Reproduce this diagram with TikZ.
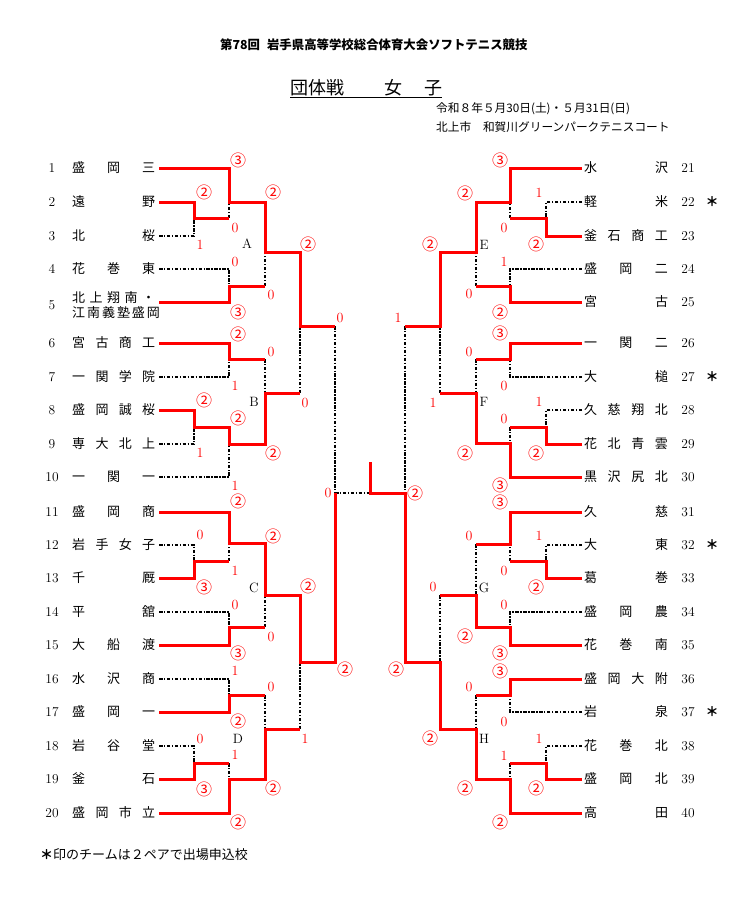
\documentclass[tikz,border=0pt]{standalone}
\usepackage{fontspec}
\newfontfamily\jp{Noto Sans CJK JP}
\newcounter{nn}
\tikzset{
  win/.style={draw=red, line width=3pt},
  lose/.style={draw=black, line width=1.8pt, dash pattern=on 3.5pt off 1.5pt on 1.4pt off 1.5pt},
  num/.style={inner sep=0pt, font=\fontsize{13.5}{13.5}\selectfont},
  nm/.style={inner sep=0pt, font=\jp\fontsize{13}{13}\selectfont},
  sd/.style={inner sep=0pt, text=red, font=\fontsize{14}{14}\selectfont},
  sc/.style={inner sep=0pt, text=red, font=\jp\fontsize{16}{16}\selectfont},
  lab/.style={inner sep=0pt, font=\fontsize{13.5}{13.5}\selectfont},
}
\newcommand\TL[3]{%
  \node[num] (n#1) at (52,#2) {#1};
  \node[nm] (t#1) at (113.7,#2) {\makebox[83pt][s]{#3}};
  \coordinate (L#1) at (159,#2);}
\newcommand\TR[3]{%
  \node[num] (n#1) at (688,#2) {#1};
  \node[nm] (t#1) at (626,#2) {\makebox[84pt][s]{#3}};
  \coordinate (L#1) at (582,#2);}
\newcommand\SD[3]{\stepcounter{nn}\node[sd] (s\arabic{nn}) at (#1,#2) {#3};}
\newcommand\SC[3]{\stepcounter{nn}\node[sc] (s\arabic{nn}) at (#1,#2) {#3};}
\begin{document}
\begin{tikzpicture}[x=1pt,y=-1pt]
\fill[white] (0,0) rectangle (739,906);
\useasboundingbox (0,0) rectangle (739,906);

% header
\node[anchor=west, inner sep=0pt, font=\jp\bfseries\fontsize{12.4}{12.4}\selectfont] (title) at (220,45) {第78回\hspace{7pt}岩手県高等学校総合体育大会ソフトテニス競技};
\node[anchor=west, inner sep=0pt, font=\jp\fontsize{18}{18}\selectfont] (h1) at (290,88) {団体戦};
\node[inner sep=0pt, font=\jp\fontsize{18}{18}\selectfont] (h2) at (393,88) {女};
\node[inner sep=0pt, font=\jp\fontsize{18}{18}\selectfont] (h3) at (433,88) {子};
\coordinate (ul1) at (290,97.5);
\coordinate (ul2) at (442,97.5);
\draw[line width=1pt] (ul1) -- (ul2);
\node[anchor=west, inner sep=0pt, font=\jp\fontsize{11.7}{11.7}\selectfont] (d1) at (436,109) {令和８年５月30日(土)・５月31日(日)};
\node[anchor=west, inner sep=0pt, font=\jp\fontsize{11.7}{11.7}\selectfont] (d2) at (436,127) {北上市　和賀川グリーンパークテニスコート};
\node[anchor=west, inner sep=0pt, font=\jp\fontsize{13}{13}\selectfont] (foot) at (40,855) {{\bfseries ＊}印のチームは２ペアで出場申込校};

% teams left
\TL{1}{168}{盛 岡 三}
\TL{2}{202}{遠 野}
\TL{3}{236}{北 桜}
\TL{4}{269}{花 巻 東}
\node[num] (n5) at (52,305) {5};
\node[nm] (t5a) at (113.7,298) {\makebox[83pt][s]{北 上 翔 南 ・}};
\node[nm] (t5b) at (113.7,313) {\makebox[83pt][s]{江 南 義 塾 盛 岡}};
\coordinate (L5) at (159,302);
\TL{6}{343}{宮 古 商 工}
\TL{7}{377}{一 関 学 院}
\TL{8}{410}{盛 岡 誠 桜}
\TL{9}{444}{専 大 北 上}
\TL{10}{477}{一 関 一}
\TL{11}{512}{盛 岡 商}
\TL{12}{545}{岩 手 女 子}
\TL{13}{578}{千 厩}
\TL{14}{612}{平 舘}
\TL{15}{645}{大 船 渡}
\TL{16}{679}{水 沢 商}
\TL{17}{712}{盛 岡 一}
\TL{18}{746}{岩 谷 堂}
\TL{19}{779}{釜 石}
\TL{20}{813}{盛 岡 市 立}
% teams right
\TR{21}{168}{水 沢}
\TR{22}{202}{軽 米}
\TR{23}{236}{釜 石 商 工}
\TR{24}{269}{盛 岡 二}
\TR{25}{302}{宮 古}
\TR{26}{343}{一 関 二}
\TR{27}{377}{大 槌}
\TR{28}{410}{久 慈 翔 北}
\TR{29}{444}{花 北 青 雲}
\TR{30}{477}{黒 沢 尻 北}
\TR{31}{512}{久 慈}
\TR{32}{545}{大 東}
\TR{33}{578}{葛 巻}
\TR{34}{612}{盛 岡 農}
\TR{35}{645}{花 巻 南}
\TR{36}{679}{盛 岡 大 附}
\TR{37}{712}{岩 泉}
\TR{38}{746}{花 巻 北}
\TR{39}{779}{盛 岡 北}
\TR{40}{813}{高 田}
\node[nm, font=\jp\bfseries\fontsize{13}{13}\selectfont] (a22) at (712,202) {＊};
\node[nm, font=\jp\bfseries\fontsize{13}{13}\selectfont] (a27) at (712,377) {＊};
\node[nm, font=\jp\bfseries\fontsize{13}{13}\selectfont] (a32) at (712,545) {＊};
\node[nm, font=\jp\bfseries\fontsize{13}{13}\selectfont] (a37) at (712,712) {＊};

% junctions
\coordinate (p23) at (194,218);
\coordinate (jA1) at (229,202);
\coordinate (jA2) at (229,286);
\coordinate (jA) at (265,252);
\coordinate (jB1) at (229,359);
\coordinate (p89) at (194,427);
\coordinate (jB2) at (229,444);
\coordinate (jB) at (265,393);
\coordinate (qAB) at (300,326);
\coordinate (jC1) at (229,543);
\coordinate (p1213) at (194,561);
\coordinate (jC2) at (229,627);
\coordinate (jC) at (265,595);
\coordinate (jD1) at (229,695);
\coordinate (p1819) at (194,763);
\coordinate (jD2) at (229,779);
\coordinate (jD) at (265,729);
\coordinate (qCD) at (300,662);
\coordinate (sL) at (335,493);
\coordinate (fin) at (370,493);
\coordinate (champ) at (370,462);
\coordinate (sR) at (405,493);
\coordinate (qEF) at (440,326);
\coordinate (qGH) at (440,662);
\coordinate (jE) at (476,252);
\coordinate (jFF) at (476,393);
\coordinate (jG) at (476,595);
\coordinate (jH) at (476,729);
\coordinate (jE1) at (510,202);
\coordinate (jE2) at (510,286);
\coordinate (jF1) at (510,359);
\coordinate (jF2) at (510,443);
\coordinate (jG1) at (510,544);
\coordinate (jG2) at (510,627);
\coordinate (jH1) at (510,695);
\coordinate (jH2) at (510,779);
\coordinate (p2223) at (546,218);
\coordinate (p2829) at (546,427);
\coordinate (p3233) at (546,561);
\coordinate (p3839) at (546,763);

% losing legs
\draw[lose] (L3) -| (p23);
\draw[lose] (p23 -| jA1) -- (jA1);
\draw[lose] (L4) -| (jA2);
\draw[lose] (jA2 -| jA) -- (jA);
\draw[lose] (qAB -| sL) -- (sL);
\draw[lose] (L7) -| (jB1);
\draw[lose] (jB1 -| jB) -- (jB);
\draw[lose] (L9) -| (p89);
\draw[lose] (L10) -| (jB2);
\draw[lose] (jB -| qAB) -- (qAB);
\draw[lose] (L12) -| (p1213);
\draw[lose] (p1213 -| jC1) -- (jC1);
\draw[lose] (L14) -| (jC2);
\draw[lose] (jC2 -| jC) -- (jC);
\draw[lose] (L16) -| (jD1);
\draw[lose] (jD1 -| jD) -- (jD);
\draw[lose] (L18) -| (p1819);
\draw[lose] (p1819 -| jD2) -- (jD2);
\draw[lose] (jD -| qCD) -- (qCD);
\draw[lose] (sL) -- (fin);
\draw[lose] (L22) -| (p2223);
\draw[lose] (p2223 -| jE1) -- (jE1);
\draw[lose] (L24) -| (jE2);
\draw[lose] (jE2 -| jE) -- (jE);
\draw[lose] (qEF -| sR) -- (sR);
\draw[lose] (L27) -| (jF1);
\draw[lose] (jF1 -| jFF) -- (jFF);
\draw[lose] (L28) -| (p2829);
\draw[lose] (p2829 -| jF2) -- (jF2);
\draw[lose] (jFF -| qEF) -- (qEF);
\draw[lose] (L32) -| (p3233);
\draw[lose] (p3233 -| jG1) -- (jG1);
\draw[lose] (L34) -| (jG2);
\draw[lose] (jG1 -| jG) -- (jG);
\draw[lose] (jG -| qGH) -- (qGH);
\draw[lose] (L37) -| (jH1);
\draw[lose] (jH1 -| jH) -- (jH);
\draw[lose] (L38) -| (p3839);
\draw[lose] (p3839 -| jH2) -- (jH2);

% winning paths
\draw[win] (L1) -| (jA1) -| (jA) -| (qAB) -- (qAB -| sL);
\draw[win] (L2) -| (p23) -- (p23 -| jA1);
\draw[win] (L5) -| (jA2) -- (jA2 -| jA);
\draw[win] (L6) -| (jB1) -- (jB1 -| jB);
\draw[win] (L8) -| (p89) -| (jB2) -| (jB) -- (jB -| qAB);
\draw[win] (L11) -| (jC1) -| (jC) -| (qCD) -| (sL);
\draw[win] (L13) -| (p1213) -- (p1213 -| jC1);
\draw[win] (L15) -| (jC2) -- (jC2 -| jC);
\draw[win] (L17) -| (jD1) -- (jD1 -| jD);
\draw[win] (L19) -| (p1819) -- (p1819 -| jD2);
\draw[win] (L20) -| (jD2) -| (jD) -- (jD -| qCD);
\draw[win] (L21) -| (jE1) -| (jE) -| (qEF) -- (qEF -| sR);
\draw[win] (L23) -| (p2223) -- (p2223 -| jE1);
\draw[win] (L25) -| (jE2) -- (jE2 -| jE);
\draw[win] (L26) -| (jF1) -- (jF1 -| jFF);
\draw[win] (L29) -| (p2829) -- (p2829 -| jF2);
\draw[win] (L30) -| (jF2) -| (jFF) -- (jFF -| qEF);
\draw[win] (L31) -| (jG1) -- (jG1 -| jG);
\draw[win] (L33) -| (p3233) -- (p3233 -| jG1);
\draw[win] (L35) -| (jG2) -| (jG) -- (jG -| qGH);
\draw[win] (L36) -| (jH1) -- (jH1 -| jH);
\draw[win] (L39) -| (p3839) -- (p3839 -| jH2);
\draw[win] (L40) -| (jH2) -| (jH) -| (qGH) -| (sR) -- (fin) -- (champ);

% block labels
\node[lab] (labA) at (247,244) {A};
\node[lab] (labB) at (254,402) {B};
\node[lab] (labC) at (254,588) {C};
\node[lab] (labD) at (238,739) {D};
\node[lab] (labE) at (484,245) {E};
\node[lab] (labF) at (484,402) {F};
\node[lab] (labG) at (484,588) {G};
\node[lab] (labH) at (484,739) {H};

% circled scores
\SC{238}{160}{③}\SC{204}{192}{②}\SC{273}{192}{②}\SC{308}{244}{②}
\SC{238}{312}{③}\SC{238}{334}{②}\SC{204}{400}{②}\SC{238}{418}{②}
\SC{273}{453}{②}\SC{238}{501}{②}\SC{273}{536}{②}\SC{204}{587}{③}
\SC{308}{586}{②}\SC{238}{653}{③}\SC{238}{721}{②}\SC{204}{789}{③}
\SC{273}{788}{②}\SC{238}{822}{②}
\SC{415}{493}{②}\SC{345}{669}{②}\SC{396}{669}{②}
\SC{500}{160}{③}\SC{465}{193}{②}\SC{536}{244}{②}\SC{430}{244}{②}
\SC{500}{312}{②}\SC{500}{333}{③}\SC{465}{453}{②}\SC{536}{453}{②}
\SC{500}{485}{③}\SC{500}{502}{③}\SC{536}{587}{②}\SC{465}{636}{②}
\SC{500}{653}{③}\SC{500}{671}{③}\SC{430}{738}{②}\SC{465}{788}{②}
\SC{536}{788}{②}\SC{500}{822}{②}

% digit scores
\SD{200}{245}{1}\SD{235}{228}{0}\SD{235}{262}{0}\SD{271}{295}{0}
\SD{340}{318}{0}\SD{271}{352}{0}\SD{235}{386}{1}\SD{200}{453}{1}
\SD{235}{486}{1}\SD{305}{403}{0}\SD{200}{535}{0}\SD{235}{571}{1}
\SD{235}{605}{0}\SD{271}{637}{0}\SD{235}{671}{1}\SD{271}{687}{0}
\SD{200}{739}{0}\SD{305}{739}{1}\SD{235}{755}{1}\SD{328}{493}{0}
\SD{398}{318}{1}\SD{539}{193}{1}\SD{504}{228}{0}\SD{504}{262}{1}
\SD{469}{294}{0}\SD{469}{352}{0}\SD{504}{386}{0}\SD{433}{403}{1}
\SD{539}{402}{1}\SD{504}{419}{0}\SD{469}{536}{0}\SD{539}{536}{1}
\SD{504}{571}{0}\SD{433}{587}{0}\SD{504}{605}{0}\SD{469}{687}{0}
\SD{504}{722}{0}\SD{539}{739}{1}\SD{504}{756}{1}
\end{tikzpicture}
\end{document}
